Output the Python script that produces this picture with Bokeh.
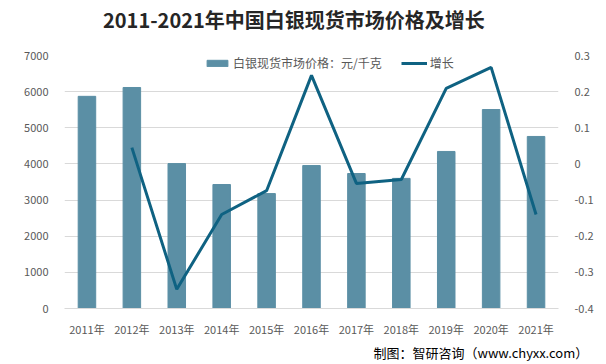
import numpy as np
from bokeh.plotting import figure
from bokeh.layouts import column
from bokeh.models import (Range1d, LinearAxis, FixedTicker, CustomJSTickFormatter,
                          Legend, LegendItem, Title, FactorRange, ColumnDataSource, Div)
from bokeh.embed import file_html
from bokeh.resources import INLINE

years = ["2011年", "2012年", "2013年", "2014年", "2015年", "2016年",
         "2017年", "2018年", "2019年", "2020年", "2021年"]
price = [5870, 6115, 4010, 3430, 3180, 3955, 3735, 3600, 4345, 5505, 4760]
growth = [np.nan, 0.045, -0.347, -0.14, -0.074, 0.245, -0.054, -0.043, 0.209, 0.267, -0.14]
left_ticks = [0, 1000, 2000, 3000, 4000, 5000, 6000, 7000]
right_ticks = [-0.4, -0.3, -0.2, -0.1, 0, 0.1, 0.2, 0.3]

FONT = "Noto Sans CJK SC"
GRAY = "#595959"
BAR = "#5B8FA5"
LINE = "#0F6282"

src = ColumnDataSource(dict(x=years, price=price, growth=growth))

head = Div(text="2011-2021年中国白银现货市场价格及增长", width=606, height=40, margin=0,
           styles={"font-family": FONT, "font-weight": "bold", "font-size": "20px",
                   "color": "#262626", "padding-left": "103px", "line-height": "40px",
                   "box-sizing": "border-box", "white-space": "nowrap"})

p = figure(width=606, height=324, x_range=FactorRange(*years, range_padding=0),
           y_range=Range1d(0, 7000), output_backend="svg", toolbar_location=None,
           min_border_left=64, min_border_right=48, min_border_top=15, min_border_bottom=56,
           margin=0)
p.outline_line_color = None
p.extra_y_ranges = {"g": Range1d(-0.4, 0.3)}

bars = p.vbar(x="x", top="price", width=0.39, source=src, color=BAR)
line = p.line(x="x", y="growth", source=src, y_range_name="g", line_color=LINE, line_width=3)

p.xgrid.grid_line_color = None
p.ygrid.grid_line_color = "#D9D9D9"
p.ygrid.ticker = FixedTicker(ticks=left_ticks)

ax = p.xaxis[0]
ax.axis_line_color = "#D9D9D9"
ax.major_tick_line_color = None
ax.minor_tick_line_color = None
ax.major_label_text_font = FONT
ax.major_label_text_font_size = "11px"
ax.major_label_text_color = GRAY
ax.major_label_standoff = 6

ly = p.yaxis[0]
ly.ticker = FixedTicker(ticks=left_ticks)
ly.axis_line_color = None
ly.major_tick_line_color = None
ly.minor_tick_line_color = None
ly.major_label_text_font = FONT
ly.major_label_text_font_size = "11px"
ly.major_label_text_color = GRAY
ly.major_label_standoff = 10

ry = LinearAxis(y_range_name="g", ticker=FixedTicker(ticks=right_ticks),
                formatter=CustomJSTickFormatter(code="return (Math.round(tick*10)/10).toString();"))
ry.axis_line_color = None
ry.major_tick_line_color = None
ry.minor_tick_line_color = None
ry.major_label_text_font = FONT
ry.major_label_text_font_size = "11px"
ry.major_label_text_color = GRAY
ry.major_label_standoff = 10
p.add_layout(ry, "right")

legend = Legend(items=[LegendItem(label="白银现货市场价格：元/千克", renderers=[bars]),
                       LegendItem(label="增长", renderers=[line])],
                orientation="horizontal", location=(140, 237),
                label_text_font=FONT, label_text_font_size="12px", label_text_color=GRAY,
                border_line_color=None, background_fill_alpha=0, glyph_width=26, glyph_height=8,
                spacing=19, label_standoff=3, padding=0, margin=0)
p.add_layout(legend, "center")

footer = Title(text="制图：智研咨询（www.chyxx.com）", text_font=FONT, text_font_style="normal",
               text_font_size="13px", text_color="#000000", align="left", offset=309, standoff=2)
p.add_layout(footer, "below")

layout = column(head, p, spacing=0, margin=0)
open("out.html", "w").write(file_html(layout, INLINE))
